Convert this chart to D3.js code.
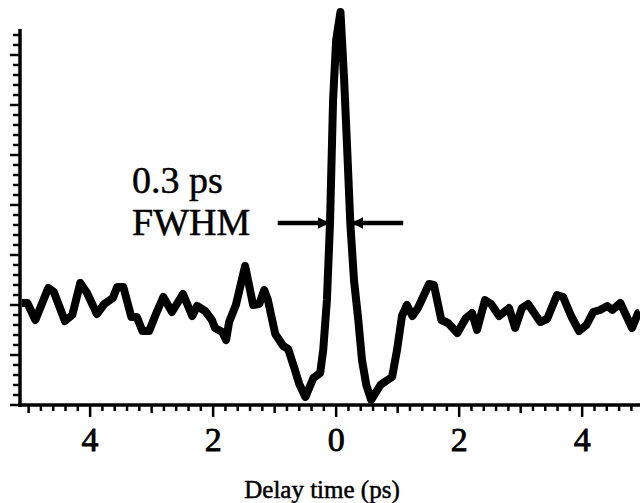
<!DOCTYPE html>
<html><head><meta charset="utf-8">
<script src="https://cdn.jsdelivr.net/npm/d3@7"></script>
<style>
html,body{margin:0;padding:0;background:#fff;}
svg{display:block;}
text{font-family:"Liberation Serif","Times New Roman",serif;fill:#000;}
</style></head>
<body>
<svg id="chart" width="640" height="503"></svg>
<script>
// Delay time (ps)
const delay = [
 -5.11,-5.02,-4.89,-4.68,-4.59,-4.41,-4.29,-4.16,-4.05,-3.89,
 -3.77,-3.63,-3.56,-3.46,-3.33,-3.24,-3.15,-3.04,-2.93,-2.81,
 -2.67,-2.49,-2.34,-2.26,-2.13,-2.02,-1.97,-1.85,-1.79,-1.74,
 -1.63,-1.48,-1.35,-1.25,-1.17,-1.11,-0.99,-0.86,-0.78,-0.68,
 -0.60,-0.50,-0.37,-0.26,-0.21,-0.15,-0.10,-0.05,0.00,0.07,
 0.13,0.18,0.23,0.29,0.36,0.42,0.49,0.57,0.72,0.81,
 0.91,0.99,1.07,1.15,1.24,1.33,1.51,1.59,1.71,1.82,
 1.97,2.11,2.21,2.29,2.42,2.52,2.65,2.81,2.91,3.02,
 3.12,3.32,3.43,3.59,3.69,3.82,3.95,4.07,4.18,4.29,
 4.41,4.49,4.62,4.81,4.91,4.94
];
// Signal (arb. units)
const signal = [
 2.04,2.04,1.70,2.34,2.26,1.68,1.80,2.44,2.24,1.82,
 2.02,2.14,2.36,2.36,1.76,1.76,1.48,1.48,1.82,2.16,
 1.86,2.22,1.78,1.98,1.88,1.70,1.54,1.46,1.30,1.66,
 2.00,2.78,2.00,2.02,2.30,2.10,1.42,1.18,1.12,0.74,
 0.42,0.16,0.54,0.64,1.10,2.10,3.64,6.10,7.30,7.86,
 6.50,5.10,3.64,2.50,1.70,0.90,0.40,0.10,0.40,0.48,
 0.56,1.10,1.78,2.00,1.78,1.94,2.42,2.40,1.70,1.64,
 1.44,1.74,1.84,1.50,2.10,2.02,1.78,1.94,1.54,1.94,
 2.02,1.66,1.72,2.20,2.16,1.78,1.48,1.60,1.86,1.90,
 1.98,1.90,2.04,1.54,1.84,1.86
];
const xTicksMajor = [-4,-2,0,2,4];
const xTickLabels = ["4","2","0","2","4"];
const annotLines = ["0.3 ps","FWHM"];
const fwhmLevel = 3.64;
const fwhmLeft = [-0.95,-0.11];
const fwhmRight = [1.09,0.25];
const axisTitle = "Delay time (ps)";

const svg = d3.select("#chart");
svg.append("rect").attr("width",640).attr("height",503).attr("fill","#fff");

const x = d3.scaleLinear().domain([-5.14,4.94]).range([20,640]);
const y = d3.scaleLinear().domain([0,7.5]).range([405,30]);

// bottom axis ticks
const g = svg.append("g");
const minorX = d3.range(-50,50).map(d=>d/10).filter(d=>Math.abs(d*5-Math.round(d*5))<1e-9 && d>=-5.1 && d<=4.94);
g.selectAll("line.xt").data(minorX).join("line")
  .attr("x1",d=>x(d)).attr("x2",d=>x(d))
  .attr("y1",405)
  .attr("y2",d=>{const r=Math.round(d); if(Math.abs(d-r)<1e-9){return r%2===0?417:413;} return 411;})
  .attr("stroke","#000").attr("stroke-width",2.5);
g.append("line").attr("x1",18).attr("x2",640).attr("y1",405).attr("y2",405)
  .attr("stroke","#000").attr("stroke-width",3.5);
g.selectAll("text.xl").data(xTicksMajor).join("text")
  .attr("x",d=>x(d)).attr("y",451).attr("text-anchor","middle")
  .attr("font-size",34).attr("stroke","#000").attr("stroke-width",0.8)
  .text((d,i)=>xTickLabels[i]);

// left axis
const minorY = d3.range(0,38).map(i=>i*0.2);
g.selectAll("line.yt").data(minorY).join("line")
  .attr("x1",20)
  .attr("x2",(d,i)=> i%5===0 ? 10 : 13)
  .attr("y1",d=>y(d)).attr("y2",d=>y(d))
  .attr("stroke","#000").attr("stroke-width",2.5);
g.append("line").attr("x1",20).attr("x2",20).attr("y1",y(7.5)-1).attr("y2",407)
  .attr("stroke","#000").attr("stroke-width",3.5);

// trace
const pts = delay.map((d,i)=>[d,signal[i]]);
svg.append("path").datum(pts)
  .attr("d",d3.line().x(d=>x(d[0])).y(d=>y(d[1])))
  .attr("fill","none").attr("stroke","#000").attr("stroke-width",8)
  .attr("stroke-linejoin","round").attr("stroke-linecap","butt");

// FWHM annotation
svg.append("defs").append("marker").attr("id","arr")
  .attr("viewBox","0 0 10 10").attr("refX",10).attr("refY",5)
  .attr("markerWidth",2.6).attr("markerHeight",2.6).attr("orient","auto")
  .append("path").attr("d","M0,0 L10,5 L0,10 Z").attr("fill","#000");
[fwhmLeft,fwhmRight].forEach(s=>{
  svg.append("line").attr("x1",x(s[0])).attr("x2",x(s[1]))
    .attr("y1",y(fwhmLevel)).attr("y2",y(fwhmLevel))
    .attr("stroke","#000").attr("stroke-width",4.5).attr("marker-end","url(#arr)");
});
svg.selectAll("text.ann").data(annotLines).join("text")
  .attr("x",132).attr("y",(d,i)=>193+i*42)
  .attr("font-size",38).attr("stroke","#000").attr("stroke-width",0.5)
  .text(d=>d);

svg.append("text").attr("x",322).attr("y",498).attr("text-anchor","middle")
  .attr("font-size",25).attr("stroke","#000").attr("stroke-width",0.5)
  .text(axisTitle);
</script>
</body></html>
